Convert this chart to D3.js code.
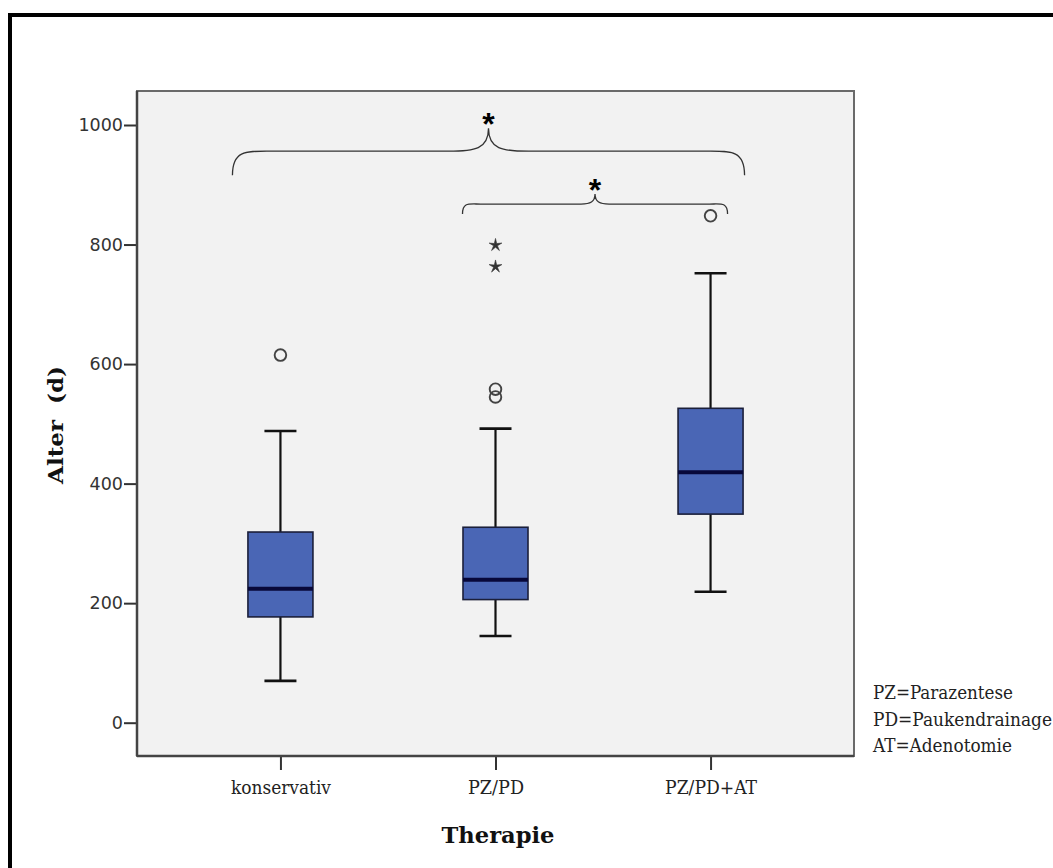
<!DOCTYPE html>
<html>
<head>
<meta charset="utf-8">
<script src="https://cdn.jsdelivr.net/npm/d3@7/dist/d3.min.js"></script>
<style>
  html, body { margin: 0; padding: 0; background: #ffffff; }
  svg { display: block; }
</style>
</head>
<body>
<script>
// ---------- data ----------
const categories   = ["konservativ", "PZ/PD", "PZ/PD+AT"];
const whiskerLow   = [70, 145, 219];
const q1           = [177, 206, 349];
const median       = [224, 239, 419];
const q3           = [319, 327, 526];
const whiskerHigh  = [488, 492, 752];
// outliers (circles) and extreme values (stars)
const outlierCats   = ["konservativ", "PZ/PD", "PZ/PD", "PZ/PD+AT"];
const outlierVals   = [615, 558, 545, 848];
const extremeCats   = ["PZ/PD", "PZ/PD"];
const extremeVals   = [799, 763];
const yTicks        = [0, 200, 400, 600, 800, 1000];
// significance brackets
const bracketFrom   = ["konservativ", "PZ/PD"];
const bracketTo     = ["PZ/PD+AT", "PZ/PD+AT"];
const bracketLevel  = [916, 851];
const bracketLabel  = ["*", "*"];
const legendLines   = ["PZ=Parazentese", "PD=Paukendrainage", "AT=Adenotomie"];
const yTitle = "Alter  (d)";
const xTitle = "Therapie";

// ---------- layout ----------
const W = 1053, H = 868;
const plot = { left: 137, top: 91, right: 854, bottom: 756 };

const svg = d3.select("body").append("svg")
  .attr("width", W).attr("height", H);

// outer black frame (only left/top visible)
svg.append("line").attr("x1", 10).attr("x2", 10).attr("y1", 13).attr("y2", H)
  .attr("stroke", "#000").attr("stroke-width", 4);
svg.append("line").attr("x1", 8).attr("x2", W).attr("y1", 15).attr("y2", 15)
  .attr("stroke", "#000").attr("stroke-width", 4);

const y = d3.scaleLinear().domain([0, 1000]).range([722.7, 125]);
const x = d3.scalePoint().domain(categories).range([plot.left, plot.right]).padding(0.667);

// plot background
svg.append("rect")
  .attr("x", plot.left).attr("y", plot.top)
  .attr("width", plot.right - plot.left).attr("height", plot.bottom - plot.top)
  .attr("fill", "#f2f2f2").attr("stroke", "#6a6a6a").attr("stroke-width", 2);

// axes
const yAxis = svg.append("g").attr("transform", `translate(${plot.left},0)`)
  .call(d3.axisLeft(y).tickValues(yTicks).tickSize(13).tickPadding(1).tickFormat(d3.format("d")));
yAxis.select(".domain").remove();
yAxis.selectAll(".tick line").attr("stroke", "#333").attr("stroke-width", 2);
yAxis.selectAll(".tick text").attr("font-family", "DejaVu Sans").attr("font-size", 17.5)
  .attr("fill", "#333");
svg.append("line").attr("x1", plot.left).attr("x2", plot.left)
  .attr("y1", plot.top).attr("y2", plot.bottom).attr("stroke", "#444").attr("stroke-width", 2.5);

const xAxis = svg.append("g").attr("transform", `translate(0,${plot.bottom})`)
  .call(d3.axisBottom(x).tickSize(14).tickPadding(0));
xAxis.select(".domain").remove();
xAxis.selectAll(".tick line").attr("stroke", "#333").attr("stroke-width", 2);
const xLabelW = { "konservativ": 100, "PZ/PD": 56, "PZ/PD+AT": 92 };
xAxis.selectAll(".tick text")
  .attr("y", 38).attr("dy", 0)
  .attr("font-family", "DejaVu Serif Condensed, DejaVu Serif").attr("font-size", 18.5)
  .attr("fill", "#222")
  .attr("textLength", d => xLabelW[d]).attr("lengthAdjust", "spacingAndGlyphs");
svg.append("line").attr("x1", plot.left).attr("x2", plot.right)
  .attr("y1", plot.bottom).attr("y2", plot.bottom).attr("stroke", "#444").attr("stroke-width", 2.5);

// boxes
const boxW = 65, capW = 32;
const boxes = categories.map((c, i) => ({ c, lo: whiskerLow[i], q1: q1[i], med: median[i], q3: q3[i], hi: whiskerHigh[i] }));
const g = svg.append("g");
boxes.forEach(b => {
  const cx = x(b.c);
  g.append("line").attr("x1", cx).attr("x2", cx).attr("y1", y(b.q3)).attr("y2", y(b.hi))
    .attr("stroke", "#111").attr("stroke-width", 2.2);
  g.append("line").attr("x1", cx).attr("x2", cx).attr("y1", y(b.q1)).attr("y2", y(b.lo))
    .attr("stroke", "#111").attr("stroke-width", 2.2);
  g.append("line").attr("x1", cx - capW / 2).attr("x2", cx + capW / 2).attr("y1", y(b.hi)).attr("y2", y(b.hi))
    .attr("stroke", "#111").attr("stroke-width", 2.6);
  g.append("line").attr("x1", cx - capW / 2).attr("x2", cx + capW / 2).attr("y1", y(b.lo)).attr("y2", y(b.lo))
    .attr("stroke", "#111").attr("stroke-width", 2.6);
  g.append("rect").attr("x", cx - boxW / 2).attr("y", y(b.q3))
    .attr("width", boxW).attr("height", y(b.q1) - y(b.q3))
    .attr("fill", "#4a66b5").attr("stroke", "#1b1f3a").attr("stroke-width", 1.6);
  g.append("line").attr("x1", cx - boxW / 2).attr("x2", cx + boxW / 2).attr("y1", y(b.med)).attr("y2", y(b.med))
    .attr("stroke", "#08083a").attr("stroke-width", 4);
});

// outlier circles
svg.append("g").selectAll("circle")
  .data(outlierCats.map((c, i) => ({ c, v: outlierVals[i] })))
  .join("circle")
  .attr("cx", d => x(d.c)).attr("cy", d => y(d.v)).attr("r", 5.8)
  .attr("fill", "none").attr("stroke", "#444").attr("stroke-width", 1.9);

// extreme stars (thin 5-point star)
const thinStar = {
  draw(ctx, size) {
    const R = Math.sqrt(size), r = R * 0.3;
    for (let k = 0; k < 10; k++) {
      const rad = k % 2 === 0 ? R : r;
      const a = -Math.PI / 2 + k * Math.PI / 5;
      const px = rad * Math.cos(a), py = rad * Math.sin(a);
      if (k === 0) ctx.moveTo(px, py); else ctx.lineTo(px, py);
    }
    ctx.closePath();
  }
};
svg.append("g").selectAll("path")
  .data(extremeCats.map((c, i) => ({ c, v: extremeVals[i] })))
  .join("path")
  .attr("transform", d => `translate(${x(d.c)},${y(d.v)})`)
  .attr("d", d3.symbol().type(thinStar).size(45))
  .attr("fill", "#333").attr("stroke", "#333").attr("stroke-width", 0.6);

// curly brackets
function bracePath(x0, x1, yEnd, rise, peak, endW, midW) {
  const yH = yEnd - rise, yP = yH - peak, m = (x0 + x1) / 2;
  return `M${x0},${yEnd} C${x0},${yH - 2} ${x0 + endW * 0.35},${yH} ${x0 + endW},${yH}` +
         ` L${m - midW},${yH} C${m - midW * 0.35},${yH} ${m},${yH - 2} ${m},${yP}` +
         ` C${m},${yH - 2} ${m + midW * 0.35},${yH} ${m + midW},${yH}` +
         ` L${x1 - endW},${yH} C${x1 - endW * 0.35},${yH} ${x1},${yH - 2} ${x1},${yEnd}`;
}
const braceCfg = [
  { padL: 48, padR: 34, rise: 24, peak: 23, endW: 41, midW: 40, fs: 32 },
  { padL: 33, padR: 17, rise: 10, peak: 10, endW: 18, midW: 14, fs: 32 }
];
bracketFrom.forEach((f, i) => {
  const c = braceCfg[i];
  const x0 = x(f) - c.padL, x1 = x(bracketTo[i]) + c.padR;
  const yEnd = y(bracketLevel[i]);
  svg.append("path").attr("d", bracePath(x0, x1, yEnd, c.rise, c.peak, c.endW, c.midW))
    .attr("fill", "none").attr("stroke", "#333").attr("stroke-width", 1.3);
  svg.append("text").attr("x", (x0 + x1) / 2).attr("y", yEnd - c.rise - c.peak + 7)
    .attr("text-anchor", "middle").attr("font-family", "Liberation Sans").attr("font-weight", "bold")
    .attr("font-size", c.fs).attr("fill", "#000").text(bracketLabel[i]);
});

// axis titles
svg.append("text").attr("transform", "translate(63,425) rotate(-90)")
  .attr("text-anchor", "middle").attr("font-family", "DejaVu Serif").attr("font-weight", "bold")
  .attr("font-size", 21).attr("fill", "#111").style("white-space", "pre")
  .attr("textLength", 118).attr("lengthAdjust", "spacingAndGlyphs").text(yTitle);
svg.append("text").attr("x", 498).attr("y", 843)
  .attr("text-anchor", "middle").attr("font-family", "DejaVu Serif").attr("font-weight", "bold")
  .attr("font-size", 22).attr("fill", "#111")
  .attr("textLength", 113).attr("lengthAdjust", "spacingAndGlyphs").text(xTitle);

// legend text
const legendW = [140, 179, 139];
svg.append("g").selectAll("text").data(legendLines).join("text")
  .attr("x", 873).attr("y", (d, i) => 699 + i * 26.5)
  .attr("font-family", "DejaVu Serif Condensed, DejaVu Serif").attr("font-size", 18)
  .attr("fill", "#222")
  .attr("textLength", (d, i) => legendW[i]).attr("lengthAdjust", "spacingAndGlyphs")
  .text(d => d);
</script>
</body>
</html>
